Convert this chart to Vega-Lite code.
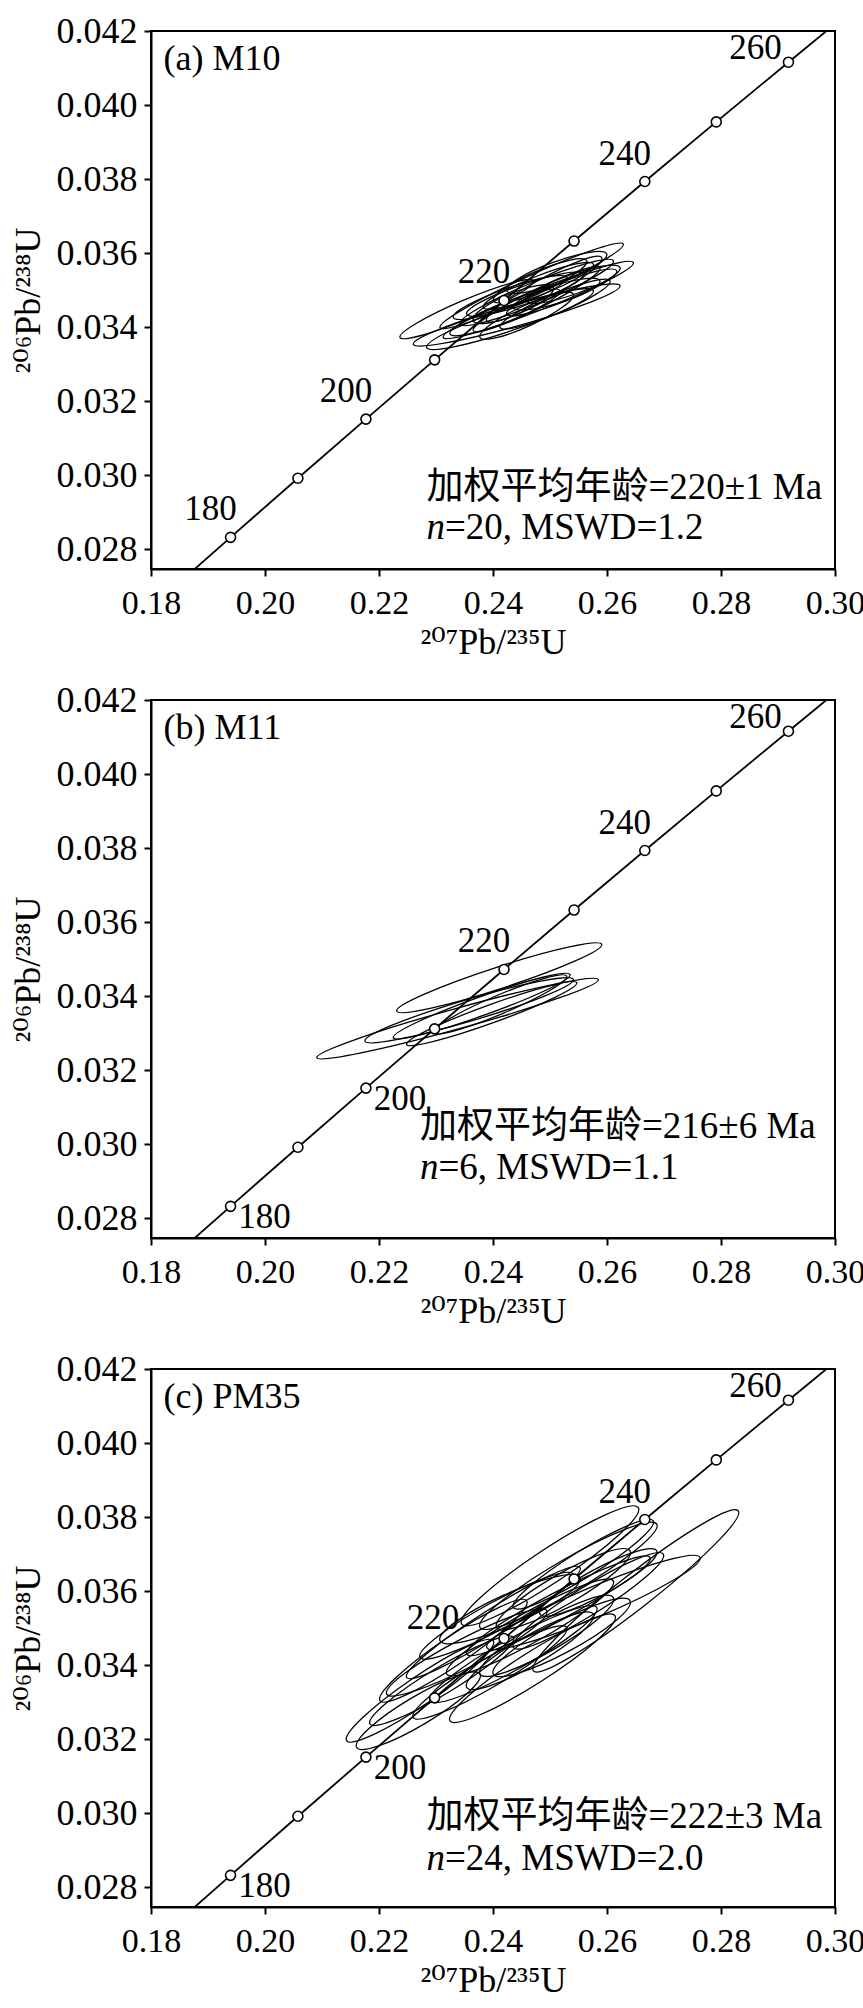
{
  "$schema": "https://vega.github.io/schema/vega-lite/v6.json",
  "padding": {"left": 9, "top": 12, "right": 0, "bottom": 5},
  "bounds": "flush",
  "spacing": 131,
  "datasets": {
    "conc": [
      {"age": 170, "x": 0.182256, "y": 0.026722},
      {"age": 180, "x": 0.193957, "y": 0.028316},
      {"age": 190, "x": 0.205774, "y": 0.029912},
      {"age": 200, "x": 0.217708, "y": 0.031511},
      {"age": 210, "x": 0.229760, "y": 0.033112},
      {"age": 220, "x": 0.241930, "y": 0.034717},
      {"age": 230, "x": 0.254222, "y": 0.036323},
      {"age": 240, "x": 0.266635, "y": 0.037932},
      {"age": 250, "x": 0.279172, "y": 0.039543},
      {"age": 260, "x": 0.291832, "y": 0.041157},
      {"age": 270, "x": 0.304617, "y": 0.042773}
    ],
    "ell": [
      {"panel": "a", "x": 0.23539, "y": 0.034484, "len": 0.02542, "tilt": 23.0, "asp": "0.13"},
      {"panel": "a", "x": 0.24416, "y": 0.034325, "len": 0.03768, "tilt": 15.8, "asp": "0.1"},
      {"panel": "a", "x": 0.24298, "y": 0.034213, "len": 0.03088, "tilt": 18.8, "asp": "0.13"},
      {"panel": "a", "x": 0.24678, "y": 0.035114, "len": 0.03533, "tilt": 24.5, "asp": "0.1"},
      {"panel": "a", "x": 0.24795, "y": 0.034730, "len": 0.03584, "tilt": 21.5, "asp": "0.1"},
      {"panel": "a", "x": 0.24766, "y": 0.034934, "len": 0.02911, "tilt": 22.4, "asp": "0.13"},
      {"panel": "a", "x": 0.24766, "y": 0.034753, "len": 0.02484, "tilt": 26.5, "asp": "0.13"},
      {"panel": "a", "x": 0.24898, "y": 0.035023, "len": 0.02304, "tilt": 28.8, "asp": "0.16"},
      {"panel": "a", "x": 0.24561, "y": 0.034889, "len": 0.02163, "tilt": 18.9, "asp": "0.16"},
      {"panel": "a", "x": 0.25088, "y": 0.034618, "len": 0.02096, "tilt": 23.0, "asp": "0.16"},
      {"panel": "a", "x": 0.24795, "y": 0.035114, "len": 0.02075, "tilt": 21.5, "asp": "0.16"},
      {"panel": "a", "x": 0.24298, "y": 0.034798, "len": 0.02109, "tilt": 19.4, "asp": "0.16"},
      {"panel": "a", "x": 0.25205, "y": 0.034934, "len": 0.02074, "tilt": 21.5, "asp": "0.16"},
      {"panel": "a", "x": 0.24825, "y": 0.035249, "len": 0.01782, "tilt": 23.2, "asp": "0.2"},
      {"panel": "a", "x": 0.25117, "y": 0.034888, "len": 0.01591, "tilt": 17.1, "asp": "0.2"},
      {"panel": "a", "x": 0.24211, "y": 0.034394, "len": 0.02074, "tilt": 21.5, "asp": "0.16"},
      {"panel": "a", "x": 0.24590, "y": 0.034303, "len": 0.01805, "tilt": 24.9, "asp": "0.2"},
      {"panel": "a", "x": 0.25118, "y": 0.035474, "len": 0.01868, "tilt": 20.2, "asp": "0.2"},
      {"panel": "a", "x": 0.24356, "y": 0.034618, "len": 0.01521, "tilt": 22.6, "asp": "0.25"},
      {"panel": "a", "x": 0.25410, "y": 0.035158, "len": 0.01739, "tilt": 19.6, "asp": "0.2"},
      {"panel": "b", "x": 0.24109, "y": 0.034493, "len": 0.03782, "tilt": 18.0, "asp": "0.1"},
      {"panel": "b", "x": 0.23377, "y": 0.033389, "len": 0.05128, "tilt": 15.5, "asp": "0.07"},
      {"panel": "b", "x": 0.23582, "y": 0.033615, "len": 0.03811, "tilt": 16.5, "asp": "0.1"},
      {"panel": "b", "x": 0.23801, "y": 0.033727, "len": 0.03293, "tilt": 19.7, "asp": "0.1"},
      {"panel": "b", "x": 0.23977, "y": 0.033524, "len": 0.03174, "tilt": 19.9, "asp": "0.1"},
      {"panel": "b", "x": 0.24123, "y": 0.033773, "len": 0.02542, "tilt": 23.0, "asp": "0.13"},
      {"panel": "c", "x": 0.25000, "y": 0.036680, "len": 0.03712, "tilt": 33.4, "asp": "0.16"},
      {"panel": "c", "x": 0.26505, "y": 0.036005, "len": 0.04561, "tilt": 38.0, "asp": "0.13"},
      {"panel": "c", "x": 0.24693, "y": 0.033912, "len": 0.03432, "tilt": 32.5, "asp": "0.16"},
      {"panel": "c", "x": 0.22719, "y": 0.033304, "len": 0.03114, "tilt": 34.3, "asp": "0.16"},
      {"panel": "c", "x": 0.23304, "y": 0.034385, "len": 0.03114, "tilt": 34.3, "asp": "0.16"},
      {"panel": "c", "x": 0.24006, "y": 0.035149, "len": 0.03602, "tilt": 32.4, "asp": "0.13"},
      {"panel": "c", "x": 0.25761, "y": 0.035689, "len": 0.04061, "tilt": 22.9, "asp": "0.13"},
      {"panel": "c", "x": 0.25322, "y": 0.036410, "len": 0.03591, "tilt": 30.3, "asp": "0.16"},
      {"panel": "c", "x": 0.22690, "y": 0.032764, "len": 0.02518, "tilt": 30.8, "asp": "0.2"},
      {"panel": "c", "x": 0.23099, "y": 0.033574, "len": 0.02937, "tilt": 31.1, "asp": "0.16"},
      {"panel": "c", "x": 0.23947, "y": 0.033799, "len": 0.03121, "tilt": 30.4, "asp": "0.16"},
      {"panel": "c", "x": 0.24649, "y": 0.035015, "len": 0.03349, "tilt": 29.2, "asp": "0.16"},
      {"panel": "c", "x": 0.25147, "y": 0.035600, "len": 0.03635, "tilt": 27.8, "asp": "0.13"},
      {"panel": "c", "x": 0.25234, "y": 0.036049, "len": 0.02698, "tilt": 29.9, "asp": "0.2"},
      {"panel": "c", "x": 0.25584, "y": 0.036725, "len": 0.02889, "tilt": 31.8, "asp": "0.16"},
      {"panel": "c", "x": 0.24357, "y": 0.034294, "len": 0.03351, "tilt": 29.2, "asp": "0.16"},
      {"panel": "c", "x": 0.23539, "y": 0.034340, "len": 0.03165, "tilt": 27.5, "asp": "0.16"},
      {"panel": "c", "x": 0.24941, "y": 0.034790, "len": 0.02697, "tilt": 29.9, "asp": "0.2"},
      {"panel": "c", "x": 0.25672, "y": 0.035735, "len": 0.03100, "tilt": 31.9, "asp": "0.16"},
      {"panel": "c", "x": 0.24064, "y": 0.035330, "len": 0.03061, "tilt": 28.5, "asp": "0.16"},
      {"panel": "c", "x": 0.24298, "y": 0.035509, "len": 0.02695, "tilt": 24.3, "asp": "0.2"},
      {"panel": "c", "x": 0.24649, "y": 0.034385, "len": 0.02567, "tilt": 30.1, "asp": "0.2"},
      {"panel": "c", "x": 0.25848, "y": 0.036230, "len": 0.02330, "tilt": 28.5, "asp": "0.2"},
      {"panel": "c", "x": 0.25204, "y": 0.034745, "len": 0.02721, "tilt": 28.2, "asp": "0.2"}
    ],
    "lab": [
      {"panel": "a", "age": 180, "x": 0.193957, "y": 0.028316, "side": "ul"},
      {"panel": "a", "age": 200, "x": 0.217708, "y": 0.031511, "side": "ul"},
      {"panel": "a", "age": 220, "x": 0.241930, "y": 0.034717, "side": "ul"},
      {"panel": "a", "age": 240, "x": 0.266635, "y": 0.037932, "side": "ul"},
      {"panel": "a", "age": 260, "x": 0.291832, "y": 0.041157, "side": "l"},
      {"panel": "b", "age": 180, "x": 0.193957, "y": 0.028316, "side": "lr"},
      {"panel": "b", "age": 200, "x": 0.217708, "y": 0.031511, "side": "lr"},
      {"panel": "b", "age": 220, "x": 0.241930, "y": 0.034717, "side": "ul"},
      {"panel": "b", "age": 240, "x": 0.266635, "y": 0.037932, "side": "ul"},
      {"panel": "b", "age": 260, "x": 0.291832, "y": 0.041157, "side": "l"},
      {"panel": "c", "age": 180, "x": 0.193957, "y": 0.028316, "side": "lr"},
      {"panel": "c", "age": 200, "x": 0.217708, "y": 0.031511, "side": "lr"},
      {"panel": "c", "age": 220, "x": 0.241930, "y": 0.034717, "side": "far"},
      {"panel": "c", "age": 240, "x": 0.266635, "y": 0.037932, "side": "ul"},
      {"panel": "c", "age": 260, "x": 0.291832, "y": 0.041157, "side": "l"}
    ],
    "notes": [
      {"panel": "a", "kind": "title", "x": 0.1822, "y": 0.04123, "txt": "(a) M10"},
      {"panel": "a", "kind": "line1", "x": 0.22832, "y": 0.029659, "txt": "加权平均年龄=220±1 Ma"},
      {"panel": "a", "kind": "n", "x": 0.22832, "y": 0.028578, "txt": "n"},
      {"panel": "a", "kind": "rest", "x": 0.22832, "y": 0.028578, "txt": "=20, MSWD=1.2"},
      {"panel": "b", "kind": "title", "x": 0.1822, "y": 0.04123, "txt": "(b) M11"},
      {"panel": "b", "kind": "line1", "x": 0.22719, "y": 0.030469, "txt": "加权平均年龄=216±6 Ma"},
      {"panel": "b", "kind": "n", "x": 0.22719, "y": 0.029362, "txt": "n"},
      {"panel": "b", "kind": "rest", "x": 0.22719, "y": 0.029362, "txt": "=6, MSWD=1.1"},
      {"panel": "c", "kind": "title", "x": 0.1822, "y": 0.04123, "txt": "(c) PM35"},
      {"panel": "c", "kind": "line1", "x": 0.22832, "y": 0.029902, "txt": "加权平均年龄=222±3 Ma"},
      {"panel": "c", "kind": "n", "x": 0.22832, "y": 0.028767, "txt": "n"},
      {"panel": "c", "kind": "rest", "x": 0.22832, "y": 0.028767, "txt": "=24, MSWD=2.0"}
    ]
  },
  "vconcat": [
    {
      "width": 684, "height": 538,
      "encoding": {
        "x": {"field": "x", "type": "quantitative", "scale": {"domain": [0.18, 0.30], "nice": false, "zero": false}, "axis": {"values": [0.18, 0.20, 0.22, 0.24, 0.26, 0.28, 0.30], "format": ".2f", "title": "²⁰⁷Pb/²³⁵U"}},
        "y": {"field": "y", "type": "quantitative", "scale": {"domain": [0.02746, 0.042], "nice": false, "zero": false}, "axis": {"values": [0.028, 0.030, 0.032, 0.034, 0.036, 0.038, 0.040, 0.042], "format": ".3f", "title": "²⁰⁶Pb/²³⁸U"}}
      },
      "layer": [
        {"data": {"name": "conc"}, "mark": {"type": "line", "clip": true, "color": "black", "strokeWidth": 1.8}, "encoding": {"order": {"field": "age", "type": "quantitative"}}},
        {"data": {"name": "ell"}, "transform": [{"filter": "datum.panel==='a'"}], "mark": {"type": "point", "filled": false, "stroke": "black", "strokeWidth": 1.3, "opacity": 1},
         "encoding": {
           "shape": {"field": "asp", "type": "nominal", "legend": null, "scale": {"domain": ["0.07", "0.1", "0.13", "0.16", "0.2", "0.25"], "range": [
             "M-1,0C-1,-0.0387,-0.5523,-0.07,0,-0.07C0.5523,-0.07,1,-0.0387,1,0C1,0.0387,0.5523,0.07,0,0.07C-0.5523,0.07,-1,0.0387,-1,0Z",
             "M-1,0C-1,-0.0552,-0.5523,-0.1,0,-0.1C0.5523,-0.1,1,-0.0552,1,0C1,0.0552,0.5523,0.1,0,0.1C-0.5523,0.1,-1,0.0552,-1,0Z",
             "M-1,0C-1,-0.0718,-0.5523,-0.13,0,-0.13C0.5523,-0.13,1,-0.0718,1,0C1,0.0718,0.5523,0.13,0,0.13C-0.5523,0.13,-1,0.0718,-1,0Z",
             "M-1,0C-1,-0.0884,-0.5523,-0.16,0,-0.16C0.5523,-0.16,1,-0.0884,1,0C1,0.0884,0.5523,0.16,0,0.16C-0.5523,0.16,-1,0.0884,-1,0Z",
             "M-1,0C-1,-0.1105,-0.5523,-0.2,0,-0.2C0.5523,-0.2,1,-0.1105,1,0C1,0.1105,0.5523,0.2,0,0.2C-0.5523,0.2,-1,0.1105,-1,0Z",
             "M-1,0C-1,-0.1381,-0.5523,-0.25,0,-0.25C0.5523,-0.25,1,-0.1381,1,0C1,0.1381,0.5523,0.25,0,0.25C-0.5523,0.25,-1,0.1381,-1,0Z"]}},
           "size": {"field": "len", "type": "quantitative", "legend": null, "scale": {"type": "pow", "exponent": 2, "domain": [0, 0.12], "range": [0, 467856], "zero": true}},
           "angle": {"field": "tilt", "type": "quantitative", "legend": null, "scale": {"domain": [0, 360], "range": [360, 0]}}
         }},
        {"data": {"name": "conc"}, "transform": [{"filter": "datum.age>=180 && datum.age<=260"}], "mark": {"type": "point", "filled": true, "fill": "white", "stroke": "black", "strokeWidth": 1.6, "size": 100, "opacity": 1}},
        {"data": {"name": "lab"}, "transform": [{"filter": "datum.panel==='a' && datum.side==='ul'"}], "mark": {"type": "text", "fontSize": 35, "dx": -20, "dy": -28}, "encoding": {"text": {"field": "age", "type": "quantitative", "format": "d"}}},
        {"data": {"name": "lab"}, "transform": [{"filter": "datum.panel==='a' && datum.side==='l'"}], "mark": {"type": "text", "fontSize": 35, "dx": -33, "dy": -14}, "encoding": {"text": {"field": "age", "type": "quantitative", "format": "d"}}},
        {"data": {"name": "notes"}, "transform": [{"filter": "datum.panel==='a' && datum.kind==='title'"}], "mark": {"type": "text", "fontSize": 36, "align": "left", "baseline": "middle"}, "encoding": {"text": {"field": "txt"}}},
        {"data": {"name": "notes"}, "transform": [{"filter": "datum.panel==='a' && datum.kind==='line1'"}], "mark": {"type": "text", "fontSize": 37, "align": "left", "baseline": "middle", "font": "Liberation Serif, Noto Sans CJK SC"}, "encoding": {"text": {"field": "txt"}}},
        {"data": {"name": "notes"}, "transform": [{"filter": "datum.panel==='a' && datum.kind==='n'"}], "mark": {"type": "text", "fontSize": 37, "align": "left", "baseline": "middle", "fontStyle": "italic"}, "encoding": {"text": {"field": "txt"}}},
        {"data": {"name": "notes"}, "transform": [{"filter": "datum.panel==='a' && datum.kind==='rest'"}], "mark": {"type": "text", "fontSize": 37, "align": "left", "baseline": "middle", "dx": 18.5}, "encoding": {"text": {"field": "txt"}}}
      ]
    },
    {
      "width": 684, "height": 538,
      "encoding": {
        "x": {"field": "x", "type": "quantitative", "scale": {"domain": [0.18, 0.30], "nice": false, "zero": false}, "axis": {"values": [0.18, 0.20, 0.22, 0.24, 0.26, 0.28, 0.30], "format": ".2f", "title": "²⁰⁷Pb/²³⁵U"}},
        "y": {"field": "y", "type": "quantitative", "scale": {"domain": [0.02746, 0.042], "nice": false, "zero": false}, "axis": {"values": [0.028, 0.030, 0.032, 0.034, 0.036, 0.038, 0.040, 0.042], "format": ".3f", "title": "²⁰⁶Pb/²³⁸U"}}
      },
      "layer": [
        {"data": {"name": "conc"}, "mark": {"type": "line", "clip": true, "color": "black", "strokeWidth": 1.8}, "encoding": {"order": {"field": "age", "type": "quantitative"}}},
        {"data": {"name": "ell"}, "transform": [{"filter": "datum.panel==='b'"}], "mark": {"type": "point", "filled": false, "stroke": "black", "strokeWidth": 1.3, "opacity": 1},
         "encoding": {
           "shape": {"field": "asp", "type": "nominal", "legend": null, "scale": {"domain": ["0.07", "0.1", "0.13", "0.16", "0.2", "0.25"], "range": [
             "M-1,0C-1,-0.0387,-0.5523,-0.07,0,-0.07C0.5523,-0.07,1,-0.0387,1,0C1,0.0387,0.5523,0.07,0,0.07C-0.5523,0.07,-1,0.0387,-1,0Z",
             "M-1,0C-1,-0.0552,-0.5523,-0.1,0,-0.1C0.5523,-0.1,1,-0.0552,1,0C1,0.0552,0.5523,0.1,0,0.1C-0.5523,0.1,-1,0.0552,-1,0Z",
             "M-1,0C-1,-0.0718,-0.5523,-0.13,0,-0.13C0.5523,-0.13,1,-0.0718,1,0C1,0.0718,0.5523,0.13,0,0.13C-0.5523,0.13,-1,0.0718,-1,0Z",
             "M-1,0C-1,-0.0884,-0.5523,-0.16,0,-0.16C0.5523,-0.16,1,-0.0884,1,0C1,0.0884,0.5523,0.16,0,0.16C-0.5523,0.16,-1,0.0884,-1,0Z",
             "M-1,0C-1,-0.1105,-0.5523,-0.2,0,-0.2C0.5523,-0.2,1,-0.1105,1,0C1,0.1105,0.5523,0.2,0,0.2C-0.5523,0.2,-1,0.1105,-1,0Z",
             "M-1,0C-1,-0.1381,-0.5523,-0.25,0,-0.25C0.5523,-0.25,1,-0.1381,1,0C1,0.1381,0.5523,0.25,0,0.25C-0.5523,0.25,-1,0.1381,-1,0Z"]}},
           "size": {"field": "len", "type": "quantitative", "legend": null, "scale": {"type": "pow", "exponent": 2, "domain": [0, 0.12], "range": [0, 467856], "zero": true}},
           "angle": {"field": "tilt", "type": "quantitative", "legend": null, "scale": {"domain": [0, 360], "range": [360, 0]}}
         }},
        {"data": {"name": "conc"}, "transform": [{"filter": "datum.age>=180 && datum.age<=260"}], "mark": {"type": "point", "filled": true, "fill": "white", "stroke": "black", "strokeWidth": 1.6, "size": 100, "opacity": 1}},
        {"data": {"name": "lab"}, "transform": [{"filter": "datum.panel==='b' && datum.side==='ul'"}], "mark": {"type": "text", "fontSize": 35, "dx": -20, "dy": -28}, "encoding": {"text": {"field": "age", "type": "quantitative", "format": "d"}}},
        {"data": {"name": "lab"}, "transform": [{"filter": "datum.panel==='b' && datum.side==='l'"}], "mark": {"type": "text", "fontSize": 35, "dx": -33, "dy": -14}, "encoding": {"text": {"field": "age", "type": "quantitative", "format": "d"}}},
        {"data": {"name": "lab"}, "transform": [{"filter": "datum.panel==='b' && datum.side==='lr'"}], "mark": {"type": "text", "fontSize": 35, "dx": 34, "dy": 11}, "encoding": {"text": {"field": "age", "type": "quantitative", "format": "d"}}},
        {"data": {"name": "notes"}, "transform": [{"filter": "datum.panel==='b' && datum.kind==='title'"}], "mark": {"type": "text", "fontSize": 36, "align": "left", "baseline": "middle"}, "encoding": {"text": {"field": "txt"}}},
        {"data": {"name": "notes"}, "transform": [{"filter": "datum.panel==='b' && datum.kind==='line1'"}], "mark": {"type": "text", "fontSize": 37, "align": "left", "baseline": "middle", "font": "Liberation Serif, Noto Sans CJK SC"}, "encoding": {"text": {"field": "txt"}}},
        {"data": {"name": "notes"}, "transform": [{"filter": "datum.panel==='b' && datum.kind==='n'"}], "mark": {"type": "text", "fontSize": 37, "align": "left", "baseline": "middle", "fontStyle": "italic"}, "encoding": {"text": {"field": "txt"}}},
        {"data": {"name": "notes"}, "transform": [{"filter": "datum.panel==='b' && datum.kind==='rest'"}], "mark": {"type": "text", "fontSize": 37, "align": "left", "baseline": "middle", "dx": 18.5}, "encoding": {"text": {"field": "txt"}}}
      ]
    },
    {
      "width": 684, "height": 538,
      "encoding": {
        "x": {"field": "x", "type": "quantitative", "scale": {"domain": [0.18, 0.30], "nice": false, "zero": false}, "axis": {"values": [0.18, 0.20, 0.22, 0.24, 0.26, 0.28, 0.30], "format": ".2f", "title": "²⁰⁷Pb/²³⁵U"}},
        "y": {"field": "y", "type": "quantitative", "scale": {"domain": [0.02746, 0.042], "nice": false, "zero": false}, "axis": {"values": [0.028, 0.030, 0.032, 0.034, 0.036, 0.038, 0.040, 0.042], "format": ".3f", "title": "²⁰⁶Pb/²³⁸U"}}
      },
      "layer": [
        {"data": {"name": "conc"}, "mark": {"type": "line", "clip": true, "color": "black", "strokeWidth": 1.8}, "encoding": {"order": {"field": "age", "type": "quantitative"}}},
        {"data": {"name": "ell"}, "transform": [{"filter": "datum.panel==='c'"}], "mark": {"type": "point", "filled": false, "stroke": "black", "strokeWidth": 1.3, "opacity": 1},
         "encoding": {
           "shape": {"field": "asp", "type": "nominal", "legend": null, "scale": {"domain": ["0.07", "0.1", "0.13", "0.16", "0.2", "0.25"], "range": [
             "M-1,0C-1,-0.0387,-0.5523,-0.07,0,-0.07C0.5523,-0.07,1,-0.0387,1,0C1,0.0387,0.5523,0.07,0,0.07C-0.5523,0.07,-1,0.0387,-1,0Z",
             "M-1,0C-1,-0.0552,-0.5523,-0.1,0,-0.1C0.5523,-0.1,1,-0.0552,1,0C1,0.0552,0.5523,0.1,0,0.1C-0.5523,0.1,-1,0.0552,-1,0Z",
             "M-1,0C-1,-0.0718,-0.5523,-0.13,0,-0.13C0.5523,-0.13,1,-0.0718,1,0C1,0.0718,0.5523,0.13,0,0.13C-0.5523,0.13,-1,0.0718,-1,0Z",
             "M-1,0C-1,-0.0884,-0.5523,-0.16,0,-0.16C0.5523,-0.16,1,-0.0884,1,0C1,0.0884,0.5523,0.16,0,0.16C-0.5523,0.16,-1,0.0884,-1,0Z",
             "M-1,0C-1,-0.1105,-0.5523,-0.2,0,-0.2C0.5523,-0.2,1,-0.1105,1,0C1,0.1105,0.5523,0.2,0,0.2C-0.5523,0.2,-1,0.1105,-1,0Z",
             "M-1,0C-1,-0.1381,-0.5523,-0.25,0,-0.25C0.5523,-0.25,1,-0.1381,1,0C1,0.1381,0.5523,0.25,0,0.25C-0.5523,0.25,-1,0.1381,-1,0Z"]}},
           "size": {"field": "len", "type": "quantitative", "legend": null, "scale": {"type": "pow", "exponent": 2, "domain": [0, 0.12], "range": [0, 467856], "zero": true}},
           "angle": {"field": "tilt", "type": "quantitative", "legend": null, "scale": {"domain": [0, 360], "range": [360, 0]}}
         }},
        {"data": {"name": "conc"}, "transform": [{"filter": "datum.age>=180 && datum.age<=260"}], "mark": {"type": "point", "filled": true, "fill": "white", "stroke": "black", "strokeWidth": 1.6, "size": 100, "opacity": 1}},
        {"data": {"name": "lab"}, "transform": [{"filter": "datum.panel==='c' && datum.side==='ul'"}], "mark": {"type": "text", "fontSize": 35, "dx": -20, "dy": -28}, "encoding": {"text": {"field": "age", "type": "quantitative", "format": "d"}}},
        {"data": {"name": "lab"}, "transform": [{"filter": "datum.panel==='c' && datum.side==='l'"}], "mark": {"type": "text", "fontSize": 35, "dx": -33, "dy": -14}, "encoding": {"text": {"field": "age", "type": "quantitative", "format": "d"}}},
        {"data": {"name": "lab"}, "transform": [{"filter": "datum.panel==='c' && datum.side==='lr'"}], "mark": {"type": "text", "fontSize": 35, "dx": 34, "dy": 11}, "encoding": {"text": {"field": "age", "type": "quantitative", "format": "d"}}},
        {"data": {"name": "lab"}, "transform": [{"filter": "datum.panel==='c' && datum.side==='far'"}], "mark": {"type": "text", "fontSize": 35, "dx": -71, "dy": -20}, "encoding": {"text": {"field": "age", "type": "quantitative", "format": "d"}}},
        {"data": {"name": "notes"}, "transform": [{"filter": "datum.panel==='c' && datum.kind==='title'"}], "mark": {"type": "text", "fontSize": 36, "align": "left", "baseline": "middle"}, "encoding": {"text": {"field": "txt"}}},
        {"data": {"name": "notes"}, "transform": [{"filter": "datum.panel==='c' && datum.kind==='line1'"}], "mark": {"type": "text", "fontSize": 37, "align": "left", "baseline": "middle", "font": "Liberation Serif, Noto Sans CJK SC"}, "encoding": {"text": {"field": "txt"}}},
        {"data": {"name": "notes"}, "transform": [{"filter": "datum.panel==='c' && datum.kind==='n'"}], "mark": {"type": "text", "fontSize": 37, "align": "left", "baseline": "middle", "fontStyle": "italic"}, "encoding": {"text": {"field": "txt"}}},
        {"data": {"name": "notes"}, "transform": [{"filter": "datum.panel==='c' && datum.kind==='rest'"}], "mark": {"type": "text", "fontSize": 37, "align": "left", "baseline": "middle", "dx": 18.5}, "encoding": {"text": {"field": "txt"}}}
      ]
    }
  ],
  "config": {
    "background": "white",
    "view": {"stroke": "black", "strokeWidth": 2},
    "font": "Liberation Serif",
    "axis": {"grid": false, "domainColor": "black", "domainWidth": 2, "tickColor": "black", "tickWidth": 2, "tickSize": 7, "labelColor": "black", "labelFont": "Liberation Serif", "labelFontSize": 36, "titleFont": "Liberation Serif, DejaVu Serif", "titleFontSize": 36, "titleFontWeight": "normal", "titleColor": "black", "labelFlush": false, "labelOverlap": false},
    "axisX": {"labelPadding": 10, "titlePadding": 5, "labelFontSize": 34},
    "axisY": {"labelPadding": 7, "titlePadding": 9},
    "text": {"font": "Liberation Serif", "color": "black"}
  }
}
